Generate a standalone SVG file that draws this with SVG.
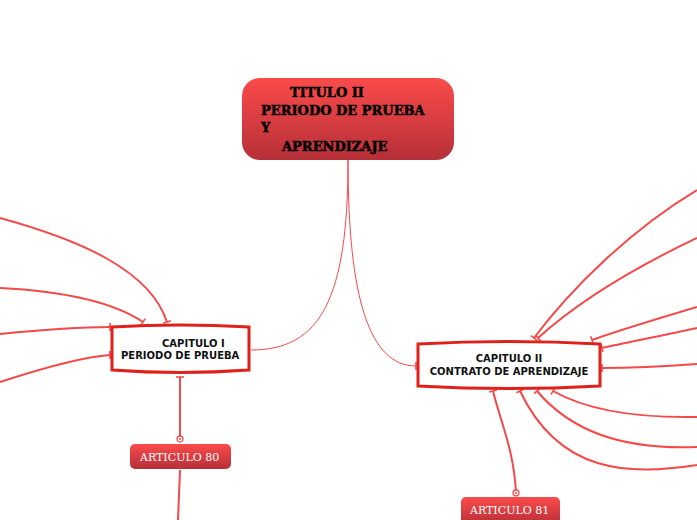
<svg xmlns="http://www.w3.org/2000/svg" width="697" height="520" viewBox="0 0 697 520">
<defs>
<linearGradient id="gr" x1="0" y1="0" x2="0" y2="1">
<stop offset="0" stop-color="#fb4b4b"/>
<stop offset="1" stop-color="#b52f37"/>
</linearGradient>
<marker id="tee" markerWidth="10" markerHeight="10" refX="5" refY="5" orient="auto" markerUnits="userSpaceOnUse">
<path d="M5,1 L5,9" stroke="#f44a4a" stroke-width="1.6" fill="none"/>
</marker>
<marker id="ring" markerWidth="10" markerHeight="10" refX="5" refY="5" orient="auto" markerUnits="userSpaceOnUse">
<circle cx="5" cy="5" r="3" fill="#fff" stroke="#f44a4a" stroke-width="1.3"/>
<circle cx="5" cy="5" r="1" fill="#f44a4a"/>
</marker>
<style>
.c{fill:none;stroke:#f64848;stroke-width:2}
.t{fill:none;stroke:#f64848;stroke-width:1}
.box{fill:#fff;stroke:#e0211a;stroke-width:3}
.cap{font-family:"DejaVu Sans",sans-serif;font-weight:bold;font-size:10px;fill:#111}
.ttl{font-family:"DejaVu Serif","Liberation Serif",serif;font-weight:bold;font-size:13px;fill:#000;stroke:#000;stroke-width:0.5}
.art{font-family:"DejaVu Serif","Liberation Serif",serif;font-size:11px;fill:#fff}
</style>
</defs>
<g id="connectors">
<path class="t" d="M348,160 C348,300 320,350 251,350"/>
<path class="t" d="M348,160 C348,300 370,366 416,366" marker-end="url(#tee)"/>
<path class="c" d="M0,218 C80,240 150,270 167,322" marker-end="url(#tee)"/>
<path class="c" d="M0,288 C60,291 110,300 143,322" marker-end="url(#tee)"/>
<path class="c" d="M0,334 C40,330 80,327 110,327" marker-end="url(#tee)"/>
<path class="c" d="M0,382 C40,369 80,357 110,355" marker-end="url(#tee)"/>
<path class="c" d="M180,439 L180,377" marker-start="url(#ring)" marker-end="url(#tee)"/>
<path class="c" d="M180,470 L178,520"/>
<path class="c" d="M516,493 C514,450 500,420 493,391" marker-start="url(#ring)" marker-end="url(#tee)"/>
<path class="c" d="M697,190 C630,230 570,290 534,338" marker-end="url(#tee)"/>
<path class="c" d="M697,238 C640,265 580,300 538,338" marker-end="url(#tee)"/>
<path class="c" d="M697,307 C660,318 620,330 592,340" marker-end="url(#tee)"/>
<path class="c" d="M697,328 C670,334 630,342 602,348" marker-end="url(#tee)"/>
<path class="c" d="M697,364 C670,366 640,368 602,368" marker-end="url(#tee)"/>
<path class="c" d="M697,417 C640,418 590,412 553,391" marker-end="url(#tee)"/>
<path class="c" d="M697,447 C620,450 570,430 537,391" marker-end="url(#tee)"/>
<path class="c" d="M697,465 C630,475 560,475 520,391" marker-end="url(#tee)"/>
</g>
<g id="titulo">
<rect x="242" y="78" width="212" height="82" rx="18" fill="url(#gr)"/>
<text class="ttl"><tspan x="290" y="97">TITULO II</tspan><tspan x="261" y="115">PERIODO DE PRUEBA</tspan><tspan x="261" y="132">Y</tspan><tspan x="282" y="151">APRENDIZAJE</tspan></text>
</g>
<g id="capitulo1">
<path class="box" d="M112,327 Q180,323 249,327 L249,370 Q180,375 112,370 Z"/>
<text class="cap"><tspan x="162" y="347">CAPITULO I</tspan><tspan x="121" y="359">PERIODO DE PRUEBA</tspan></text>
</g>
<g id="capitulo2">
<path class="box" d="M418,344 Q509,339 600,344 L600,386 Q509,391 418,386 Z"/>
<text class="cap" text-anchor="middle"><tspan x="509" y="362">CAPITULO II</tspan><tspan x="509" y="375">CONTRATO DE APRENDIZAJE</tspan></text>
</g>
<g id="articulo80">
<rect x="130" y="444" width="101" height="25" rx="5" fill="url(#gr)"/>
<text class="art" x="140" y="461">ARTICULO 80</text>
</g>
<g id="articulo81">
<rect x="461" y="497" width="99" height="28" rx="5" fill="url(#gr)"/>
<text class="art" x="470" y="514">ARTICULO 81</text>
</g>
</svg>
